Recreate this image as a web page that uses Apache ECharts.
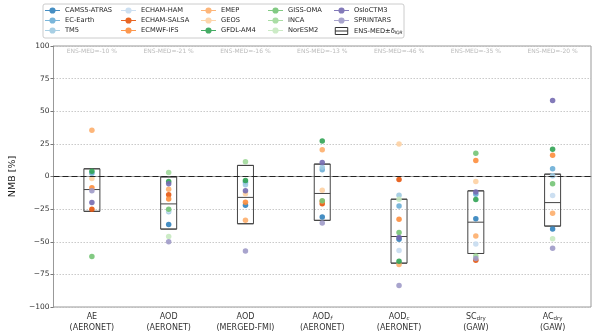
<!DOCTYPE html>
<html><head><meta charset="utf-8">
<script src="https://cdn.jsdelivr.net/npm/echarts@6/dist/echarts.min.js"></script>
<style>html,body{margin:0;padding:0;background:#fff}#c{width:600px;height:335px}</style>
</head><body><div id="c"></div>
<script>
// Categories: "main_sub (source)"
const categories = ['AE (AERONET)', 'AOD (AERONET)', 'AOD (MERGED-FMI)', 'AOD_f (AERONET)', 'AOD_c (AERONET)', 'SC_dry (GAW)', 'AC_dry (GAW)'];
const yMin = -100, yMax = 100, yInterval = 25;

// Ensemble median and IQR box
const ensQ1  = [-26.7, -40.3, -36.2, -33.6, -66.4, -59.0, -38.0];
const ensMed = [-10, -21, -16, -13, -46, -35, -20];
const ensQ3  = [5.9, -0.3, 8.5, 9.5, -17.4, -11.0, 1.8];

// Model values (NMB %) per category
const camsAtras  = [null, -36.7, -22.0, -31.0, -48.0, -32.3, -40.3];
const ecEarth    = [2.5, null, -4.4, 5.1, -22.6, -13.6, 5.9];
const tm5        = [null, -27.0, -6.4, 7.0, -14.4, null, 0.5];
const echamHam   = [null, -26.0, null, null, -56.7, -51.8, -14.6];
const echamSalsa = [-25.0, -14.0, null, -20.8, -2.3, -64.1, null];
const ecmwfIfs   = [-8.7, -17.2, -19.7, -19.0, -32.8, 12.3, 16.2];
const emep       = [35.4, -9.7, -33.6, 20.5, -67.4, -45.6, -28.2];
const geos       = [-1.5, null, -13.3, -10.5, 24.9, -3.8, null];
const gfdlAm4    = [4.1, -3.8, -3.0, 27.2, -64.9, -17.7, 20.8];
const gissOma    = [-61.3, -25.0, null, -18.5, -43.0, 17.9, -5.6];
const inca       = [null, 3.1, 11.3, null, null, -61.0, null];
const noresm2    = [null, -46.0, null, null, -17.4, null, -47.7];
const osloCtm3   = [-20.0, -5.6, -11.0, 10.8, -46.7, -11.8, 58.2];
const sprintars  = [-11.0, -50.0, -57.0, -35.6, -83.6, -62.8, -54.9];

const modelNames = ['CAMS5-ATRAS','EC-Earth','TM5','ECHAM-HAM','ECHAM-SALSA','ECMWF-IFS','EMEP','GEOS','GFDL-AM4','GISS-OMA','INCA','NorESM2','OsloCTM3','SPRINTARS'];
const modelValues = [camsAtras, ecEarth, tm5, echamHam, echamSalsa, ecmwfIfs, emep, geos, gfdlAm4, gissOma, inca, noresm2, osloCtm3, sprintars];
const modelColors = ['#3182bd','#6baed6','#9ecae1','#c6dbef','#e6550d','#fd8d3c','#fdae6b','#fdd0a2','#31a354','#74c476','#a1d99b','#c7e9c0','#756bb1','#9e9ac8'];

const FONT = 'DejaVu Sans';
const chart = echarts.init(document.getElementById('c'), null, {renderer: 'canvas'});

const markerIcon = 'path://M0,5H16V6H0Z M4.7,5.5A3.3,3.3 0 1 1 11.3,5.5A3.3,3.3 0 1 1 4.7,5.5Z';
const boxIcon = 'path://M0,0H16V9H0Z M0,4.5H16';

const series = modelNames.map((n, k) => ({
  name: n, type: 'scatter', z: 4,
  symbolSize: 5.5,
  itemStyle: {color: modelColors[k], opacity: 0.9},
  emphasis: {disabled: true},
  data: modelValues[k].map((v, i) => [i, v]).filter(d => d[1] != null)
}));

series.push({
  name: 'ENS-MED', type: 'boxplot', z: 2,
  boxWidth: [16, 16],
  itemStyle: {color: 'rgba(0,0,0,0)', borderColor: '#444', borderWidth: 1},
  emphasis: {disabled: true},
  data: ensQ1.map((q, i) => [q, q, ensMed[i], ensQ3[i], ensQ3[i]]),
  markLine: {
    silent: true, symbol: 'none', animation: false,
    label: {show: false},
    lineStyle: {color: '#222', width: 1.2, type: [6, 3]},
    data: [{yAxis: 0}]
  }
});

series.push({
  name: 'enslabel', type: 'scatter', z: 5, silent: true,
  symbolSize: 0,
  data: categories.map((c, i) => [i, yMax]),
  label: {
    show: true, position: 'bottom', distance: 2,
    fontFamily: FONT, fontSize: 6, color: '#aaa',
    formatter: p => 'ENS-MED=' + ensMed[p.dataIndex] + ' %'
  }
});

function legendCol(left, names) {
  return {
    orient: 'vertical', left: left, top: 7, padding: 0,
    itemWidth: 15, itemHeight: 7, itemGap: 3,
    selectedMode: false,
    textStyle: {fontFamily: FONT, fontSize: 6.7, color: '#222', lineHeight: 7,
      rich: {m: {fontFamily: FONT, fontSize: 6.7, color: '#222', lineHeight: 8, verticalAlign: 'middle'},
             s: {fontFamily: FONT, fontSize: 4.5, color: '#222', fontStyle: 'italic', lineHeight: 4, verticalAlign: 'bottom'}}},
    formatter: n => n === 'ENS-MED' ? '{m|ENS-MED±δ}{s|IQR}' : n,
    data: names.map(n => n === 'ENS-MED'
      ? {name: n, icon: boxIcon, itemStyle: {color: 'rgba(0,0,0,0)', borderColor: '#333', borderWidth: 1}}
      : {name: n, icon: markerIcon})
  };
}

const option = {
  animation: false,
  backgroundColor: '#fff',
  textStyle: {fontFamily: FONT},
  graphic: [{type: 'rect', z: -1, shape: {x: 43, y: 4, width: 361, height: 34, r: 2},
    style: {fill: '#fff', stroke: '#ccc', lineWidth: 1}}],
  legend: [
    legendCol(45, modelNames.slice(0, 3)),
    legendCol(121, modelNames.slice(3, 6)),
    legendCol(201, modelNames.slice(6, 9)),
    legendCol(268, modelNames.slice(9, 12)),
    legendCol(334, [modelNames[12], modelNames[13], 'ENS-MED'])
  ],
  grid: {left: 45, right: 9, top: 46, bottom: 28, show: true, borderColor: '#999', borderWidth: 1},
  xAxis: {
    type: 'category', data: categories, boundaryGap: true,
    axisLine: {lineStyle: {color: '#999'}},
    axisTick: {alignWithLabel: true, length: 3, lineStyle: {color: '#777'}},
    axisLabel: {
      margin: 4, interval: 0, color: '#333',
      formatter: v => {
        const sp = v.indexOf(' ');
        const head = v.slice(0, sp), src = v.slice(sp + 1);
        const parts = head.split('_');
        let l1 = '{m|' + parts[0] + '}';
        if (parts[1]) l1 += (parts[1] === 'dry' ? '{s|' : '{si|') + parts[1] + '}';
        return l1 + '\n{m|' + src + '}';
      },
      rich: {
        m: {fontFamily: FONT, fontSize: 8, color: '#333', lineHeight: 11, verticalAlign: 'middle'},
        s: {fontFamily: FONT, fontSize: 5.5, color: '#333', lineHeight: 5, verticalAlign: 'bottom'},
        si: {fontFamily: FONT, fontSize: 5.5, color: '#333', fontStyle: 'italic', lineHeight: 5, verticalAlign: 'bottom'}
      }
    },
    splitLine: {show: false}
  },
  yAxis: {
    type: 'value', min: yMin, max: yMax, interval: yInterval,
    name: 'NMB [%]', nameLocation: 'middle', nameGap: 28, nameRotate: 90,
    nameTextStyle: {fontFamily: FONT, fontSize: 9.5, color: '#222'},
    axisLine: {show: true, lineStyle: {color: '#999'}},
    axisTick: {show: true, length: 3, lineStyle: {color: '#777'}},
    axisLabel: {fontFamily: FONT, fontSize: 7.5, color: '#333', margin: 4,
      formatter: v => v < 0 ? '\u2212' + Math.abs(v) : String(v)},
    splitLine: {show: true, lineStyle: {color: '#bbb', width: 0.8, type: [1.5, 1.5]}}
  },
  series: series
};
chart.setOption(option);
</script></body></html>
